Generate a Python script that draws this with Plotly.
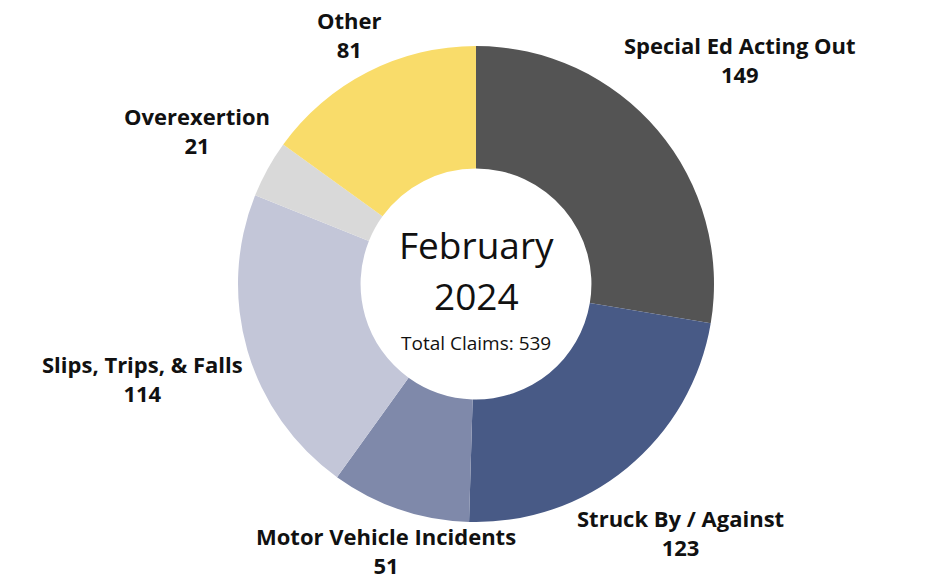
import plotly.graph_objects as go

categories = ["Special Ed Acting Out", "Struck By / Against", "Motor Vehicle Incidents",
              "Slips, Trips, & Falls", "Overexertion", "Other"]
values = [149, 123, 51, 114, 21, 81]
colors = ["#545454", "#485a86", "#7f89aa", "#c3c6d8", "#d9d9d9", "#f9dc6a"]

# label centre positions in pixels (x, y of midpoint between the two lines)
label_pos = [(740, 59), (680, 532), (386, 550), (142, 378), (197, 130), (349, 34)]

W, H = 928, 581
cx, cy, r = 476, 284, 238

fig = go.Figure(go.Pie(
    labels=categories, values=values, sort=False, direction="clockwise", rotation=0,
    hole=0.485, marker=dict(colors=colors, line=dict(width=0)),
    textinfo="none", hoverinfo="label+value", showlegend=False,
    domain=dict(x=[(cx - r) / W, (cx + r) / W], y=[(H - cy - r) / H, (H - cy + r) / H]),
))

ann = []
for cat, val, (px, py) in zip(categories, values, label_pos):
    ann.append(dict(x=px / W, y=1 - py / H, xref="paper", yref="paper",
                    text=f"<b>{cat}</b><br><b>{val}</b>", showarrow=False,
                    font=dict(family="Open Sans", size=22, color="#111111"),
                    xanchor="center", yanchor="middle", align="center"))

ann.append(dict(x=cx / W, y=1 - 244 / H, xref="paper", yref="paper", text="February",
                showarrow=False, font=dict(family="Open Sans", size=37, color="#111111"),
                xanchor="center", yanchor="middle"))
ann.append(dict(x=cx / W, y=1 - 295 / H, xref="paper", yref="paper", text="2024",
                showarrow=False, font=dict(family="Open Sans", size=37, color="#111111"),
                xanchor="center", yanchor="middle"))
ann.append(dict(x=cx / W, y=1 - 343 / H, xref="paper", yref="paper",
                text=f"Total Claims: {sum(values)}",
                showarrow=False, font=dict(family="Open Sans", size=19, color="#111111"),
                xanchor="center", yanchor="middle"))

fig.update_layout(width=W, height=H, margin=dict(l=0, r=0, t=0, b=0),
                  paper_bgcolor="white", plot_bgcolor="white", annotations=ann)

fig.write_html("out.html")
